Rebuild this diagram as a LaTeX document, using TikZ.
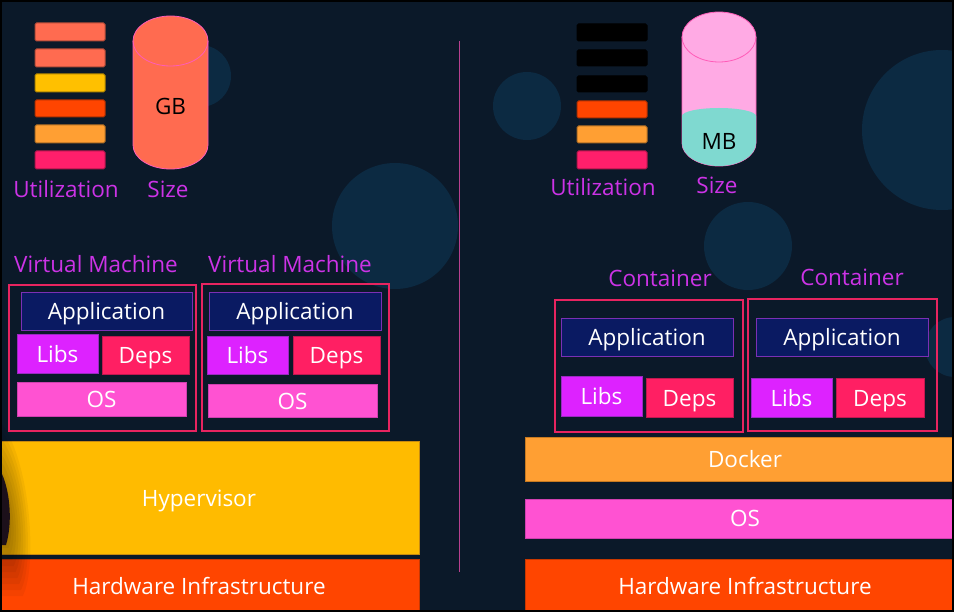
\documentclass[tikz,border=0pt]{standalone}
\usepackage{fontspec}
\setmainfont{Open Sans}
\definecolor{bg}{HTML}{0B1929}
\definecolor{circ}{HTML}{0C2A42}
\definecolor{lblc}{HTML}{CC33E6}
\definecolor{vmb}{HTML}{E82460}
\definecolor{appf}{HTML}{0A1A62}
\definecolor{appd}{HTML}{7B2FB5}
\definecolor{libf}{HTML}{DD22FF}
\definecolor{libd}{HTML}{9A2AC0}
\definecolor{depf}{HTML}{FF1F63}
\definecolor{depd}{HTML}{C01850}
\definecolor{osf}{HTML}{FF52D2}
\definecolor{osd}{HTML}{D040B0}
\definecolor{hyp}{HTML}{FFBB00}
\definecolor{hypd}{HTML}{C88A10}
\definecolor{hw}{HTML}{FF4500}
\definecolor{hwd}{HTML}{C83800}
\definecolor{dock}{HTML}{FF9F33}
\definecolor{dockd}{HTML}{C87A20}
\definecolor{coral}{HTML}{FF6B50}
\definecolor{gold}{HTML}{FFC000}
\definecolor{barpink}{HTML}{FF1F6B}
\definecolor{cylpink}{HTML}{FFAAE4}
\definecolor{cyledge}{HTML}{FF5CB8}
\definecolor{teal}{HTML}{7FD9D0}
\definecolor{divc}{HTML}{B8408F}
\definecolor{silh}{HTML}{1C101A}
\newcommand\fs{\fontsize{22.5}{27}\selectfont}
\newcommand\bx[7]{\node[#1, minimum width={(#5)-(#3)}, minimum height={(#6)-(#4)}] (#2) at ({((#3)+(#5))/2},{((#4)+(#6))/2}) {#7};}
\tikzset{
  capc/.style={text height=16pt, text depth=0pt},
  blk/.style={draw, line width=1pt, inner sep=0pt, outer sep=0pt, text=white, font=\fs, capc},
  appbox/.style={blk, fill=appf, draw=appd},
  libbox/.style={blk, fill=libf, draw=libd},
  depbox/.style={blk, fill=depf, draw=depd},
  osbox/.style={blk, fill=osf, draw=osd},
  hypbox/.style={blk, fill=hyp, draw=hypd},
  hwbox/.style={blk, fill=hw, draw=hwd},
  dockbox/.style={blk, fill=dock, draw=dockd},
  vmframe/.style={draw=vmb, line width=1.4pt, inner sep=0pt, outer sep=0pt},
  bar/.style={draw=#1!70!black, line width=1pt, fill=#1, rounded corners=1.5pt, inner sep=0pt, outer sep=0pt},
  lbl/.style={text=lblc, font=\fs, inner sep=0pt, capc},
}
\begin{document}
\begin{tikzpicture}[x=1pt,y=1pt,yscale=-1]
\useasboundingbox (0,0) rectangle (954,612);
\fill[bg] (0,0) rectangle (954,612);
% background circles
\fill[circ] (200,76) circle (31);
\fill[circ] (395,226) circle (63);
\fill[circ] (527,106) circle (34);
\fill[circ] (942,130) circle (80);
\fill[circ] (748,246) circle (44);
\fill[circ] (955,347) circle (30);
% divider
\coordinate (d1) at (459,41);
\coordinate (d2) at (459,572);
\draw[divc, line width=1pt] (d1) -- (d2);
% ---------- left utilization bars
\bx{bar=coral}{lb1}{35}{23}{105}{41}{}
\bx{bar=coral}{lb2}{35}{49}{105}{67}{}
\bx{bar=gold}{lb3}{35}{74}{105}{92}{}
\bx{bar=hw}{lb4}{35}{100}{105}{117}{}
\bx{bar=dock}{lb5}{35}{125}{105}{143}{}
\bx{bar=barpink}{lb6}{35}{151}{105}{169}{}
% left cylinder
\fill[coral] (133,41) -- (133,145) arc[start angle=180,end angle=0,x radius=37.5,y radius=24] -- (208,41) arc[start angle=0,end angle=-180,x radius=37.5,y radius=25] -- cycle;
\draw[cyledge, line width=0.8pt] (133,41) -- (133,145) arc[start angle=180,end angle=0,x radius=37.5,y radius=24] -- (208,41) arc[start angle=0,end angle=-180,x radius=37.5,y radius=25] -- cycle;
\draw[cyledge, line width=0.8pt] (133,41) arc[start angle=180,end angle=0,x radius=37.5,y radius=25];
\node[font=\fs, text=black, inner sep=0pt, capc] (gb) at (170.5,107) {GB};
\node[lbl] (utilL) at (66,190) {Utilization};
\node[lbl] (sizeL) at (168,190) {Size};
% ---------- right utilization bars
\bx{bar=black}{rb1}{577}{24}{647}{41}{}
\bx{bar=black}{rb2}{577}{50}{647}{66}{}
\bx{bar=black}{rb3}{577}{76}{647}{92}{}
\bx{bar=hw}{rb4}{577}{101}{647}{118}{}
\bx{bar=dock}{rb5}{577}{126}{647}{143}{}
\bx{bar=barpink}{rb6}{577}{151}{647}{169}{}
% right cylinder
\fill[cylpink] (682,37) -- (682,143) arc[start angle=180,end angle=0,x radius=37,y radius=23] -- (756,37) arc[start angle=0,end angle=-180,x radius=37,y radius=25] -- cycle;
\draw[cyledge, line width=0.8pt] (682,37) -- (682,143) arc[start angle=180,end angle=0,x radius=37,y radius=23] -- (756,37) arc[start angle=0,end angle=-180,x radius=37,y radius=25] -- cycle;
\draw[cyledge, line width=0.8pt] (682,37) arc[start angle=180,end angle=0,x radius=37,y radius=25];
\fill[teal] (682,116) arc[start angle=180,end angle=360,x radius=37,y radius=8] -- (756,143) arc[start angle=0,end angle=180,x radius=37,y radius=23] -- cycle;
\node[font=\fs, text=black, inner sep=0pt, capc] (mb) at (719,142) {MB};
\node[lbl] (utilR) at (603,188) {Utilization};
\node[lbl] (sizeR) at (717,186) {Size};
% ---------- virtual machines
\node[lbl] (vmt1) at (96,265) {Virtual Machine};
\node[lbl] (vmt2) at (290,265) {Virtual Machine};
\bx{vmframe}{vm1}{9}{285}{196}{431}{}
\bx{vmframe}{vm2}{202}{284}{389}{431}{}
\bx{appbox}{app1}{21}{293}{192}{331}{Application}
\bx{libbox}{lib1}{17}{335}{98}{374}{Libs}
\bx{depbox}{dep1}{102}{337}{189}{375}{Deps}
\bx{osbox}{os1}{17}{383}{186}{417}{OS}
\bx{appbox}{app2}{209}{293}{381}{331}{Application}
\bx{libbox}{lib2}{207}{337}{288}{375}{Libs}
\bx{depbox}{dep2}{293}{337}{380}{375}{Deps}
\bx{osbox}{os2}{208}{385}{377}{418}{OS}
% ---------- containers
\node[lbl] (ct1) at (660,279) {Container};
\node[lbl] (ct2) at (852,278) {Container};
\bx{vmframe}{c1}{555}{300}{743}{432}{}
\bx{vmframe}{c2}{748}{299}{937}{431}{}
\bx{appbox}{capp1}{561}{319}{733}{357}{Application}
\bx{appbox}{capp2}{756}{319}{928}{357}{Application}
\bx{libbox}{clib1}{561}{377}{642}{417}{Libs}
\bx{depbox}{cdep1}{646}{379}{733}{418}{Deps}
\bx{libbox}{clib2}{751}{379}{832}{418}{Libs}
\bx{depbox}{cdep2}{836}{379}{924}{418}{Deps}
% ---------- lower layers
\bx{hypbox}{hyp}{-21}{442}{419}{554}{Hypervisor}
\bx{hwbox}{hwL}{-21}{559}{419}{614}{Hardware Infrastructure}
\bx{dockbox}{dock}{525}{438}{965}{481}{Docker}
\bx{osbox}{osR}{525}{499}{965}{538}{OS}
\bx{hwbox}{hwR}{525}{559}{965}{614}{Hardware Infrastructure}
% soft silhouette at left edge
\foreach \w in {38,35,...,14}{
  \fill[black, opacity=0.045] (0,{520-2.6*\w}) .. controls ({0.8*\w},{520-1.6*\w}) and ({\w},{520+1.2*\w}) .. ({0.6*\w},{520+2*\w}) -- (0,{520+2*\w}) -- cycle;
}
\fill[silh] (0,470) .. controls (10,488) and (13,522) .. (6,545) -- (0,545) -- cycle;
% frame
\draw[black, line width=4pt] (0,0) rectangle (954,612);
\end{tikzpicture}
\end{document}
